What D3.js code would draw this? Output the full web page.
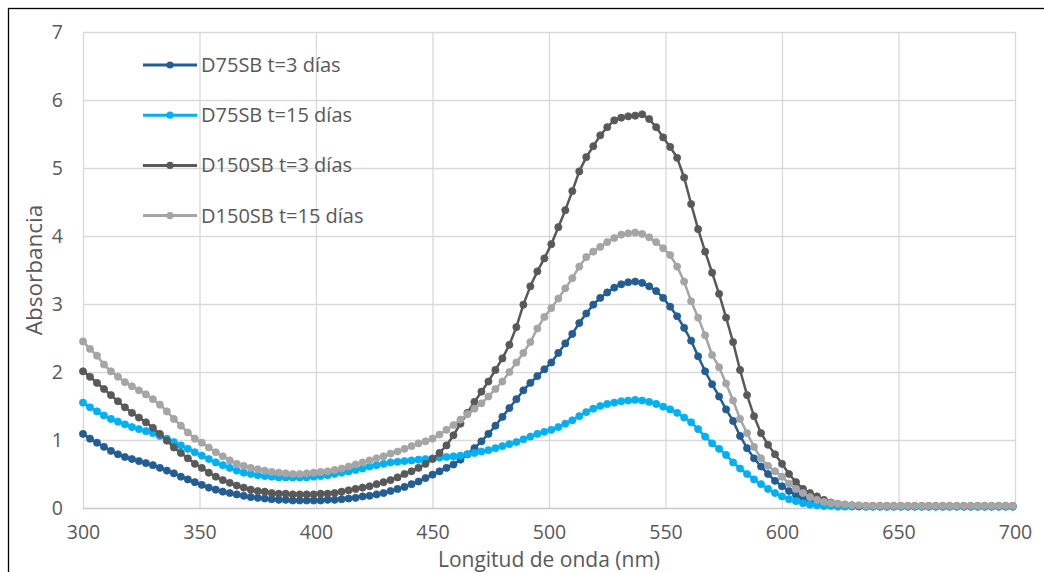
<!DOCTYPE html>
<html><head><meta charset="utf-8">
<script src="https://cdn.jsdelivr.net/npm/d3@7"></script>
<style>
html,body{margin:0;padding:0;background:#fff;}
svg text{font-family:"Open Sans","Noto Sans",sans-serif;fill:#595959;}
</style></head>
<body>
<svg id="chart" width="1044" height="572"></svg>
<script>
// ---- data ----
const wavelength = [300,303,306,309,312,315,318,321,324,327,330,333,336,339,342,345,348,351,354,357,
360,363,366,369,372,375,378,381,384,387,390,393,396,399,402,405,408,411,414,417,
420,423,426,429,432,435,438,441,444,447,450,453,456,459,462,465,468,471,474,477,
480,483,486,489,492,495,498,501,504,507,510,513,516,519,522,525,528,531,534,537,
540,543,546,549,552,555,558,561,564,567,570,573,576,579,582,585,588,591,594,597,
600,603,606,609,612,615,618,621,624,627,630,633,636,639,642,645,648,651,654,657,
660,663,666,669,672,675,678,681,684,687,690,693,696,699];

const d75_t3 = [1.09,1.02,0.96,0.90,0.84,0.79,0.75,0.72,0.69,0.66,0.63,0.59,0.55,0.51,0.46,0.42,0.38,0.34,0.30,0.27,
0.24,0.22,0.20,0.18,0.16,0.15,0.14,0.13,0.12,0.12,0.11,0.11,0.11,0.11,0.11,0.12,0.12,0.13,0.14,0.15,
0.17,0.18,0.20,0.22,0.25,0.28,0.31,0.35,0.39,0.44,0.49,0.54,0.59,0.64,0.71,0.79,0.88,0.98,1.09,1.21,
1.34,1.47,1.60,1.73,1.84,1.94,2.04,2.14,2.28,2.42,2.56,2.72,2.86,2.99,3.09,3.17,3.24,3.29,3.32,3.33,
3.31,3.26,3.19,3.09,2.96,2.82,2.65,2.46,2.23,2.01,1.82,1.64,1.45,1.28,1.06,0.88,0.73,0.61,0.50,0.40,
0.32,0.25,0.19,0.15,0.12,0.09,0.07,0.05,0.04,0.03,0.03,0.03,0.02,0.02,0.02,0.02,0.02,0.02,0.02,0.02,
0.02,0.02,0.02,0.02,0.02,0.02,0.02,0.02,0.02,0.02,0.02,0.02,0.02,0.02];

const d75_t15 = [1.55,1.48,1.42,1.36,1.31,1.27,1.23,1.19,1.16,1.13,1.10,1.06,1.02,0.97,0.92,0.87,0.82,0.77,0.72,0.67,
0.63,0.59,0.55,0.52,0.50,0.48,0.47,0.46,0.45,0.45,0.45,0.45,0.45,0.46,0.47,0.48,0.50,0.52,0.54,0.56,
0.58,0.61,0.63,0.65,0.67,0.68,0.69,0.70,0.71,0.72,0.73,0.74,0.75,0.76,0.77,0.79,0.81,0.83,0.85,0.88,
0.91,0.94,0.97,1.01,1.05,1.09,1.12,1.15,1.19,1.24,1.29,1.35,1.41,1.46,1.50,1.53,1.55,1.57,1.58,1.59,
1.58,1.56,1.53,1.49,1.45,1.40,1.33,1.26,1.16,1.05,0.95,0.87,0.78,0.67,0.58,0.50,0.42,0.35,0.28,0.22,
0.17,0.13,0.10,0.07,0.05,0.04,0.03,0.03,0.02,0.02,0.02,0.02,0.02,0.02,0.02,0.02,0.02,0.02,0.02,0.02,
0.02,0.02,0.02,0.02,0.02,0.02,0.02,0.02,0.02,0.02,0.02,0.02,0.02,0.02];

const d150_t3 = [2.01,1.93,1.84,1.75,1.66,1.57,1.48,1.40,1.33,1.26,1.18,1.09,0.99,0.89,0.81,0.73,0.65,0.59,0.52,0.46,
0.41,0.37,0.33,0.30,0.27,0.25,0.24,0.22,0.21,0.21,0.20,0.20,0.20,0.20,0.21,0.21,0.22,0.24,0.26,0.28,
0.30,0.32,0.35,0.38,0.41,0.45,0.50,0.54,0.59,0.65,0.72,0.81,0.92,1.07,1.24,1.40,1.56,1.71,1.86,2.03,
2.20,2.40,2.66,2.99,3.26,3.48,3.67,3.88,4.13,4.38,4.66,4.95,5.16,5.32,5.48,5.60,5.70,5.74,5.76,5.77,
5.79,5.72,5.60,5.45,5.31,5.15,4.86,4.47,4.10,3.77,3.46,3.15,2.80,2.44,2.03,1.66,1.35,1.10,0.93,0.79,
0.65,0.50,0.38,0.28,0.22,0.17,0.12,0.08,0.06,0.05,0.04,0.03,0.03,0.03,0.03,0.03,0.03,0.03,0.03,0.03,
0.03,0.03,0.03,0.03,0.03,0.03,0.03,0.03,0.03,0.03,0.03,0.03,0.03,0.03];

const d150_t15 = [2.45,2.34,2.24,2.11,2.01,1.93,1.85,1.79,1.73,1.67,1.60,1.52,1.42,1.31,1.21,1.11,1.02,0.96,0.89,0.82,
0.76,0.70,0.65,0.62,0.59,0.57,0.55,0.53,0.52,0.51,0.50,0.50,0.51,0.52,0.53,0.54,0.56,0.58,0.61,0.64,
0.67,0.70,0.73,0.76,0.80,0.83,0.87,0.91,0.95,0.98,1.02,1.08,1.15,1.22,1.30,1.38,1.46,1.54,1.64,1.75,
1.86,2.00,2.14,2.28,2.44,2.64,2.81,2.94,3.08,3.23,3.38,3.55,3.69,3.77,3.84,3.91,3.97,4.02,4.04,4.05,
4.03,3.98,3.91,3.82,3.72,3.55,3.33,3.04,2.80,2.54,2.25,2.07,1.83,1.58,1.31,1.10,0.90,0.73,0.62,0.54,
0.46,0.36,0.28,0.22,0.16,0.12,0.09,0.07,0.06,0.05,0.04,0.04,0.03,0.03,0.03,0.03,0.03,0.03,0.03,0.03,
0.03,0.03,0.03,0.03,0.03,0.03,0.03,0.03,0.03,0.03,0.03,0.03,0.03,0.03];

const seriesNames = ["D75SB t=3 días","D75SB t=15 días","D150SB t=3 días","D150SB t=15 días"];
const seriesValues = [d75_t3, d75_t15, d150_t3, d150_t15];
const seriesColors = ["#245d91","#00b0f0","#595959","#a5a5a5"];
const xTicks = [300,350,400,450,500,550,600,650,700];
const yTicks = [0,1,2,3,4,5,6,7];
const xTitle = "Longitud de onda (nm)";
const yTitle = "Absorbancia";

// ---- layout ----
const svg = d3.select("#chart");
const L = 83, R = 1015, T = 32, B = 508;
const x = d3.scaleLinear().domain([300,700]).range([L,R]);
const y = d3.scaleLinear().domain([0,7]).range([B,T]);

// outer border
svg.append("rect").attr("x",8.5).attr("y",8.5).attr("width",1100).attr("height",700)
  .attr("fill","none").attr("stroke","#000").attr("stroke-width",1.3);

// gridlines
const g = svg.append("g");
g.selectAll("line.h").data(yTicks.filter(d=>d>0)).join("line")
  .attr("x1",L).attr("x2",R).attr("y1",d=>y(d)+0.5).attr("y2",d=>y(d)+0.5)
  .attr("stroke","#d9d9d9").attr("stroke-width",1.3);
g.selectAll("line.v").data(xTicks).join("line")
  .attr("y1",T).attr("y2",B).attr("x1",d=>x(d)+0.5).attr("x2",d=>x(d)+0.5)
  .attr("stroke","#d9d9d9").attr("stroke-width",1.3);
g.append("line").attr("x1",L).attr("x2",R).attr("y1",B+0.5).attr("y2",B+0.5)
  .attr("stroke","#c8c8c8").attr("stroke-width",1.3);

// axes labels
const xAxis = d3.axisBottom(x).tickValues(xTicks).tickSize(0).tickPadding(0).tickFormat(d3.format("d"));
const xa = svg.append("g").attr("transform",`translate(0,${B})`).call(xAxis);
xa.select(".domain").remove();
xa.selectAll("text").attr("dy",null).attr("y",30.5).style("font-size","19.5px").attr("fill","#595959");

const yAxis = d3.axisLeft(y).tickValues(yTicks).tickSize(0).tickPadding(0).tickFormat(d3.format("d"));
const ya = svg.append("g").attr("transform",`translate(63,0)`).call(yAxis);
ya.select(".domain").remove();
ya.selectAll("text").attr("dy","0.35em").style("font-size","19.5px").attr("fill","#595959");

svg.append("text").attr("x",(L+R)/2).attr("y",566.5).attr("text-anchor","middle")
  .style("font-size","21px").text(xTitle);
svg.append("text").attr("transform",`translate(42,${(T+B)/2}) rotate(-90)`).attr("text-anchor","middle")
  .style("font-size","22.5px").text(yTitle);

// series
const line = d3.line().x((d,i)=>x(wavelength[i])).y(d=>y(d));
seriesValues.forEach((vals,k)=>{
  const sg = svg.append("g");
  sg.append("path").datum(vals).attr("d",line).attr("fill","none")
    .attr("stroke",seriesColors[k]).attr("stroke-width",2.5).attr("stroke-linejoin","round");
  sg.selectAll("circle").data(vals).join("circle")
    .attr("cx",(d,i)=>x(wavelength[i])).attr("cy",d=>y(d)).attr("r",3.6)
    .attr("fill",seriesColors[k]).attr("stroke",seriesColors[k]).attr("stroke-width",0.75);
});

// legend
const lg = svg.append("g");
seriesNames.forEach((name,k)=>{
  const ly = 65 + k*50.2;
  lg.append("line").attr("x1",143).attr("x2",197).attr("y1",ly).attr("y2",ly)
    .attr("stroke",seriesColors[k]).attr("stroke-width",3);
  lg.append("circle").attr("cx",170).attr("cy",ly).attr("r",3.6).attr("fill",seriesColors[k]);
  lg.append("text").attr("x",201).attr("y",ly).attr("dy","0.35em").style("font-size","20px").text(name);
});
</script>
</body></html>
